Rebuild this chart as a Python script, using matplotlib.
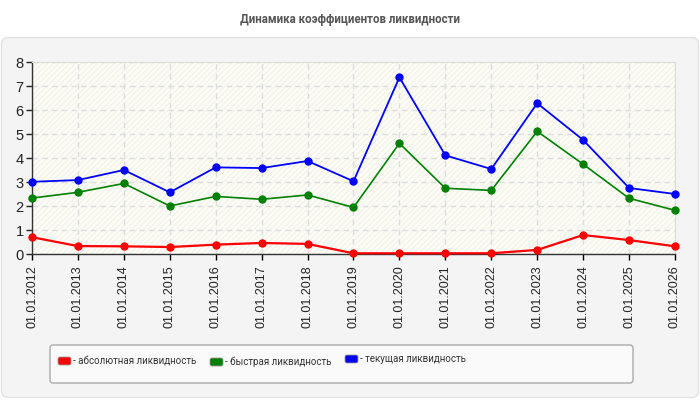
import matplotlib
matplotlib.use("Agg")
import matplotlib.pyplot as plt
from matplotlib.patches import FancyBboxPatch, Rectangle

dates = ["01.01.2012", "01.01.2013", "01.01.2014", "01.01.2015", "01.01.2016",
         "01.01.2017", "01.01.2018", "01.01.2019", "01.01.2020", "01.01.2021",
         "01.01.2022", "01.01.2023", "01.01.2024", "01.01.2025", "01.01.2026"]
absolute = [0.70, 0.33, 0.32, 0.29, 0.39, 0.46, 0.42, 0.03, 0.03, 0.03, 0.03, 0.17, 0.79, 0.58, 0.32]
quick = [2.33, 2.57, 2.94, 2.00, 2.40, 2.28, 2.46, 1.94, 4.61, 2.74, 2.65, 5.11, 3.74, 2.32, 1.82]
current = [3.01, 3.08, 3.50, 2.57, 3.61, 3.58, 3.875, 3.03, 7.36, 4.11, 3.54, 6.28, 4.75, 2.75, 2.50]
series_names = ["- абсолютная ликвидность", "- быстрая ликвидность", "- текущая ликвидность"]
colors = ["#ff0000", "#008000", "#0000ff"]
title = "Динамика коэффициентов ликвидности"

plt.rcParams['font.family'] = ['Liberation Sans', 'DejaVu Sans']
plt.rcParams['hatch.color'] = "#f1f1e8"
plt.rcParams['hatch.linewidth'] = 0.8
narrow = ['Roboto', 'DejaVu Sans']

fig = plt.figure(figsize=(7, 4), dpi=100)
fig.patch.set_facecolor("white")

bg = fig.add_axes([0, 0, 1, 1], zorder=-10)
bg.set_xlim(0, 700)
bg.set_ylim(400, 0)
bg.axis("off")
bg.add_patch(FancyBboxPatch((1.5, 37.5), 697, 360, boxstyle="round,pad=0,rounding_size=7",
                            facecolor="#f4f4f4", edgecolor="#e2e2e2", linewidth=1))
bg.add_patch(FancyBboxPatch((50, 345), 583, 38, boxstyle="round,pad=0,rounding_size=3",
                            facecolor="#fafafa", edgecolor="#aaaaaa", linewidth=1))
item_x = [58, 210, 345]
item_y = [361, 362, 359]
for px, py, name, c in zip(item_x, item_y, series_names, colors):
    bg.add_patch(FancyBboxPatch((px, py - 4), 13, 8, boxstyle="round,pad=0,rounding_size=2",
                                facecolor=c, edgecolor="#999999", linewidth=0.6))
    bg.text(px + 15, py, name, ha="left", va="center", fontsize=7.0,
            color="#333333", family=narrow)

fig.text(0.5, 1 - 20/400, title, ha="center", va="center",
         fontsize=8.3, fontweight="bold", color="#555555", family=narrow)

ax = fig.add_axes([32/700, 146/400, 643/700, 192/400])
ax.set_facecolor("#fdfdf7")
ax.add_patch(Rectangle((0, 0), 1, 1, transform=ax.transAxes, facecolor="none",
                       hatch="//////", linewidth=0, zorder=0))

x = list(range(len(dates)))
for vals, c, lw in zip([absolute, quick, current], colors, [1.6, 1.2, 1.3]):
    ax.plot(x, vals, color=c, linewidth=lw, marker="o", markersize=5, zorder=3,
            clip_on=False)

ax.set_xlim(0, len(dates) - 1)
ax.set_ylim(0, 8)
ax.set_yticks(range(0, 9))
ax.set_xticks(x)
ax.set_xticklabels(dates, rotation=90, fontsize=9, color="#222222")
ax.tick_params(axis="y", labelsize=10.5, colors="#222222", length=4, width=1, pad=2)
ax.tick_params(axis="x", length=4, width=1, pad=4)
ax.grid(True, color="#dddddd", linestyle=(0, (4, 3)), linewidth=1)
ax.set_axisbelow(True)
for s in ["top", "right"]:
    ax.spines[s].set_color("#dddddd")
for s in ["left", "bottom"]:
    ax.spines[s].set_color("#333333")
    ax.spines[s].set_linewidth(1)

fig.savefig("out.png", dpi=100, facecolor=fig.get_facecolor())
